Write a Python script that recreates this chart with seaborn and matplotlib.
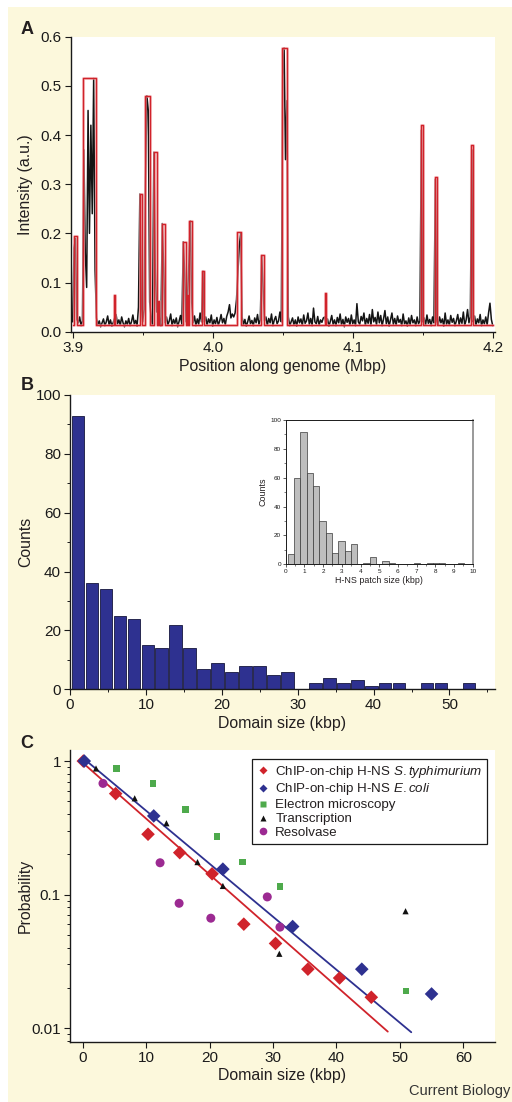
import numpy as np
import pandas as pd
import matplotlib
matplotlib.use("Agg")
import matplotlib.pyplot as plt
import seaborn as sns
from matplotlib.patches import Rectangle
from matplotlib.lines import Line2D
from matplotlib.ticker import MultipleLocator, FixedLocator, FixedFormatter, NullLocator

# ---------------- data ----------------
# Panel A: ChIP-on-chip intensity along the genome (1 kb steps from 3.900 Mbp)
trace_start = 3.900
trace_step = 0.001
trace_vals = [
    0.020, 0.170, 0.190, 0.025, 0.018, 0.030, 0.012, 0.022, 0.370, 0.160,
    0.090, 0.450, 0.200, 0.420, 0.240, 0.515, 0.125, 0.028, 0.015, 0.022,
    0.010, 0.018, 0.026, 0.012, 0.020, 0.032, 0.014, 0.024, 0.011, 0.019,
    0.028, 0.035, 0.016, 0.024, 0.013, 0.030, 0.018, 0.010, 0.022, 0.015,
    0.027, 0.012, 0.020, 0.034, 0.016, 0.023, 0.011, 0.050, 0.280, 0.060,
    0.020, 0.045, 0.300, 0.480, 0.450, 0.060, 0.030, 0.015, 0.365, 0.130,
    0.040, 0.060, 0.025, 0.012, 0.220, 0.130, 0.018, 0.030, 0.014, 0.022,
    0.036, 0.012, 0.025, 0.017, 0.028, 0.010, 0.021, 0.033, 0.015, 0.183,
    0.120, 0.020, 0.070, 0.140, 0.225, 0.060, 0.018, 0.032, 0.012, 0.026,
    0.015, 0.038, 0.020, 0.123, 0.020, 0.030, 0.013, 0.026, 0.018, 0.034,
    0.011, 0.024, 0.016, 0.029, 0.013, 0.022, 0.035, 0.018, 0.027, 0.014,
    0.031, 0.040, 0.055, 0.028, 0.036, 0.030, 0.038, 0.065, 0.120, 0.175,
    0.200, 0.030, 0.014, 0.025, 0.011, 0.020, 0.032, 0.016, 0.023, 0.012,
    0.028, 0.018, 0.035, 0.015, 0.024, 0.155, 0.090, 0.022, 0.030, 0.013,
    0.027, 0.018, 0.036, 0.012, 0.024, 0.031, 0.016, 0.022, 0.040, 0.020,
    0.520, 0.577, 0.350, 0.470, 0.030, 0.012, 0.020, 0.028, 0.014, 0.024,
    0.011, 0.030, 0.018, 0.026, 0.013, 0.034, 0.017, 0.022, 0.038, 0.015,
    0.027, 0.012, 0.048, 0.020, 0.016, 0.031, 0.013, 0.024, 0.019, 0.028,
    0.030, 0.014, 0.026, 0.011, 0.021, 0.033, 0.015, 0.024, 0.012, 0.029,
    0.018, 0.036, 0.014, 0.025, 0.010, 0.030, 0.019, 0.027, 0.013, 0.034,
    0.016, 0.024, 0.012, 0.057, 0.020, 0.015, 0.031, 0.022, 0.038, 0.013,
    0.027, 0.017, 0.035, 0.012, 0.045, 0.020, 0.029, 0.014, 0.040, 0.018,
    0.033, 0.012, 0.026, 0.043, 0.016, 0.030, 0.011, 0.024, 0.038, 0.015,
    0.027, 0.013, 0.032, 0.019, 0.025, 0.012, 0.036, 0.016, 0.022, 0.011,
    0.028, 0.014, 0.033, 0.018, 0.024, 0.012, 0.030, 0.016, 0.022, 0.410,
    0.020, 0.028, 0.013, 0.034, 0.017, 0.025, 0.012, 0.030, 0.018, 0.310,
    0.022, 0.014, 0.030, 0.018, 0.026, 0.011, 0.038, 0.015, 0.024, 0.013,
    0.033, 0.019, 0.027, 0.012, 0.022, 0.035, 0.014, 0.028, 0.017, 0.040,
    0.013, 0.024, 0.045, 0.018, 0.030, 0.370, 0.020, 0.032, 0.013, 0.026,
    0.018, 0.035, 0.012, 0.024, 0.016, 0.030, 0.014, 0.038, 0.058, 0.025,
    0.012,
]

# H-NS domains called from the trace (red boxes)
box_start = [3.9008, 3.9076, 3.9298, 3.9478, 3.9518, 3.9578, 3.9608, 3.9638, 3.9788, 3.9818,
             3.9828, 3.9926, 4.0177, 4.0345, 4.0498, 4.0802, 4.1486, 4.1586, 4.1848]
box_end = [3.9029, 3.9167, 3.9302, 3.9498, 3.9555, 3.9602, 3.9618, 3.9657, 3.9807, 3.9822,
           3.9850, 3.9940, 4.0205, 4.0369, 4.0533, 4.0808, 4.1500, 4.1600, 4.1862]
box_height = [0.195, 0.515, 0.075, 0.280, 0.480, 0.365, 0.062, 0.220, 0.183, 0.075,
              0.225, 0.123, 0.202, 0.155, 0.577, 0.078, 0.420, 0.315, 0.380]
box_base = 0.013

# Panel B: domain size histogram
dom_bin_start = 0.13
dom_bin_width = 1.84
dom_counts = [93, 36, 34, 25, 24, 15, 14, 22, 14, 7, 9, 6, 8, 8, 5, 6, 0,
              2, 4, 2, 3, 1, 2, 2, 0, 2, 2, 0, 2]

# inset: H-NS patch size histogram
patch_bin_start = 0.107
patch_bin_width = 0.3375
patch_counts = [7, 60, 92, 63, 54, 30, 22, 8, 16, 9, 14, 0, 1, 5, 0, 2, 1,
                0, 0, 0, 1, 0, 1, 1, 1, 0, 0, 1]

# Panel C: probability vs domain size
styph_x = [0.1, 5.2, 10.3, 15.3, 20.4, 25.4, 30.4, 35.5, 40.5, 45.5]
styph_y = [1.0, 0.57, 0.283, 0.206, 0.143, 0.060, 0.043, 0.0276, 0.0237, 0.0170]
ecoli_x = [0.25, 11.2, 22.1, 33.1, 44.0, 55.0]
ecoli_y = [1.0, 0.388, 0.155, 0.0576, 0.0276, 0.0180]
em_x = [5.3, 11.1, 16.2, 21.2, 25.2, 31.1, 51.0]
em_y = [0.88, 0.68, 0.435, 0.273, 0.175, 0.115, 0.0189]
tr_x = [2.1, 8.2, 13.2, 18.1, 22.1, 31.0, 50.9]
tr_y = [0.88, 0.526, 0.342, 0.175, 0.116, 0.036, 0.075]
res_x = [3.2, 12.2, 15.2, 20.2, 29.1, 31.1]
res_y = [0.68, 0.173, 0.086, 0.0665, 0.096, 0.057]
styph_fit_x = [0.3, 48.1]
styph_fit_y = [0.944, 0.0094]
ecoli_fit_x = [0.3, 51.8]
ecoli_fit_y = [1.03, 0.0093]

legend_labels = ["ChIP-on-chip H-NS $\\mathit{S{.}typhimurium}$",
                 "ChIP-on-chip H-NS $\\mathit{E{.}coli}$",
                 "Electron microscopy", "Transcription", "Resolvase"]

# ---------------- style ----------------
sns.set_style("ticks")
plt.rcParams['font.family'] = ['Liberation Sans', 'DejaVu Sans']
plt.rcParams['mathtext.fontset'] = 'custom'
plt.rcParams['mathtext.it'] = 'Liberation Sans:italic'
plt.rcParams['mathtext.rm'] = 'Liberation Sans'
plt.rcParams.update({
    'xtick.direction': 'out', 'ytick.direction': 'out',
    'xtick.major.size': 4, 'ytick.major.size': 4,
    'xtick.minor.size': 2.5, 'ytick.minor.size': 2.5,
    'xtick.major.width': 0.8, 'ytick.major.width': 0.8,
    'xtick.minor.width': 0.7, 'ytick.minor.width': 0.7,
    'xtick.major.pad': 2.5, 'ytick.major.pad': 2.5,
    'axes.linewidth': 1.0, 'axes.edgecolor': '#1a1a1a',
    'xtick.color': '#1a1a1a', 'ytick.color': '#1a1a1a',
    'text.color': '#231f20', 'axes.labelcolor': '#231f20',
})

cream = '#FCF8DC'
red = '#D0232B'
navy = '#2E3190'
tick_fs = 11
lab_fs = 11.4

fig = plt.figure(figsize=(5.12, 11.02), dpi=100, facecolor='white')
fig.patches.append(Rectangle((8 / 512, 0), 1, (1102 - 7) / 1102, transform=fig.transFigure,
                             facecolor=cream, edgecolor='none', zorder=-10))


def style_axes(ax):
    ax.set_facecolor('white')
    for s in ['top', 'right']:
        ax.spines[s].set_visible(False)
    ax.tick_params(labelsize=tick_fs)


# ---------------- panel A ----------------
axA = fig.add_axes([70.7 / 512, 1 - 331.7 / 1102, 424.3 / 512, 295 / 1102])
style_axes(axA)
trace_x = trace_start + trace_step * np.arange(len(trace_vals))
sns.lineplot(x=trace_x, y=trace_vals, estimator=None, sort=False, color='#141414',
             lw=1.1, ax=axA)
step_x = [trace_start]
step_y = [box_base]
for s, e, h in zip(box_start, box_end, box_height):
    step_x += [s, s, e, e]
    step_y += [box_base, h, h, box_base]
step_x.append(4.2)
step_y.append(box_base)
axA.plot(step_x, step_y, color='#F2A0A4', lw=2.2, zorder=3, alpha=0.6)
axA.plot(step_x, step_y, color=red, lw=1.0, zorder=4)
axA.set_xlim(3.8986, 4.2016)
axA.set_ylim(0, 0.6)
axA.set_xticks([3.9, 4.0, 4.1, 4.2])
axA.set_xticklabels(['3.9', '4.0', '4.1', '4.2'])
axA.xaxis.set_minor_locator(FixedLocator([3.95, 4.05, 4.15]))
axA.set_yticks([0, 0.1, 0.2, 0.3, 0.4, 0.5, 0.6])
axA.set_yticklabels(['0.0', '0.1', '0.2', '0.3', '0.4', '0.5', '0.6'])
axA.set_xlabel('Position along genome (Mbp)', fontsize=lab_fs, labelpad=3)
axA.set_ylabel('Intensity (a.u.)', fontsize=lab_fs)
axA.yaxis.set_label_coords(-0.089, 0.5)

# ---------------- panel B ----------------
axB = fig.add_axes([70 / 512, 1 - 689.3 / 1102, 425 / 512, 294.3 / 1102])
style_axes(axB)
dom_edges = [dom_bin_start + dom_bin_width * k for k in range(len(dom_counts) + 1)]
dom_df = pd.DataFrame({'size': [dom_edges[k] + dom_bin_width / 2 for k in range(len(dom_counts))],
                       'count': dom_counts})
dom_df = dom_df[dom_df['count'] > 0]
sns.histplot(data=dom_df, x='size', weights='count', bins=dom_edges,
             shrink=0.9, color=navy, edgecolor='#15163d', linewidth=0.6, alpha=1, ax=axB)
axB.set_xlim(0, 56)
axB.set_ylim(0, 100)
axB.set_xticks([0, 10, 20, 30, 40, 50])
axB.xaxis.set_minor_locator(MultipleLocator(5))
axB.set_yticks([0, 20, 40, 60, 80, 100])
axB.yaxis.set_minor_locator(MultipleLocator(10))
axB.set_xlabel('Domain size (kbp)', fontsize=lab_fs, labelpad=3)
axB.set_ylabel('Counts', fontsize=lab_fs)
axB.yaxis.set_label_coords(-0.087, 0.5)

# inset
axI = fig.add_axes([285.7 / 512, 1 - 564.3 / 1102, 187 / 512, 144.3 / 1102])
axI.set_facecolor('white')
patch_edges = [patch_bin_start + patch_bin_width * k for k in range(len(patch_counts) + 1)]
patch_df = pd.DataFrame({'size': [patch_edges[k] + patch_bin_width / 2 for k in range(len(patch_counts))],
                         'count': patch_counts})
patch_df = patch_df[patch_df['count'] > 0]
sns.histplot(data=patch_df, x='size', weights='count', bins=patch_edges,
             shrink=1, color='#BEBEBE', edgecolor='#3a3a3a', linewidth=0.5, alpha=1, ax=axI)
axI.set_xlim(0, 10)
axI.set_ylim(0, 100)
axI.set_xticks(range(11))
axI.xaxis.set_minor_locator(MultipleLocator(0.5))
axI.set_yticks([0, 20, 40, 60, 80, 100])
axI.yaxis.set_minor_locator(MultipleLocator(10))
for s in axI.spines.values():
    s.set_linewidth(0.7)
axI.spines['right'].set_color('#888888')
axI.spines['right'].set_linewidth(1.2)
axI.tick_params(which='major', length=2, width=0.5, pad=1.2, labelsize=4.6)
axI.tick_params(which='minor', length=1.2, width=0.4)
axI.set_xlabel('H-NS patch size (kbp)', fontsize=6.4, labelpad=1.5)
axI.set_ylabel('Counts', fontsize=6.4, labelpad=2)

# ---------------- panel C ----------------
axC = fig.add_axes([70 / 512, 1 - 1041.7 / 1102, 425 / 512, 291.7 / 1102])
style_axes(axC)
axC.set_yscale('log')
axC.plot(styph_fit_x, styph_fit_y, color=red, lw=1.3, zorder=2)
axC.plot(ecoli_fit_x, ecoli_fit_y, color=navy, lw=1.3, zorder=2)
sns.scatterplot(x=styph_x, y=styph_y, marker='D', s=48, color=red, edgecolor='none', ax=axC, zorder=3)
sns.scatterplot(x=ecoli_x, y=ecoli_y, marker='D', s=48, color=navy, edgecolor='none', ax=axC, zorder=3)
sns.scatterplot(x=em_x, y=em_y, marker='s', s=22, color='#4EAA4C', edgecolor='none', ax=axC, zorder=3)
sns.scatterplot(x=tr_x, y=tr_y, marker='^', s=20, color='#111111', edgecolor='none', ax=axC, zorder=3)
sns.scatterplot(x=res_x, y=res_y, marker='o', s=42, color='#9C2A92', edgecolor='none', ax=axC, zorder=3)
axC.set_xlim(-2, 65)
axC.set_ylim(0.0079, 1.21)
axC.set_xticks([0, 10, 20, 30, 40, 50, 60])
axC.xaxis.set_minor_locator(NullLocator())
axC.yaxis.set_major_locator(FixedLocator([0.01, 0.1, 1]))
axC.yaxis.set_major_formatter(FixedFormatter(['0.01', '0.1', '1']))
axC.tick_params(axis='y', which='minor', labelleft=False)
axC.set_xlabel('Domain size (kbp)', fontsize=lab_fs, labelpad=2)
axC.set_ylabel('Probability', fontsize=lab_fs)
axC.yaxis.set_label_coords(-0.087, 0.5)

handles = [
    Line2D([], [], ls='', marker='D', ms=4, color=red, mec='none'),
    Line2D([], [], ls='', marker='D', ms=4, color=navy, mec='none'),
    Line2D([], [], ls='', marker='s', ms=5, color='#4EAA4C', mec='none'),
    Line2D([], [], ls='', marker='^', ms=4.5, color='#111111', mec='none'),
    Line2D([], [], ls='', marker='o', ms=5.5, color='#9C2A92', mec='none'),
]
leg = axC.legend(handles, legend_labels, loc='upper left', bbox_to_anchor=(0.428, 0.969),
                 fontsize=9.6, frameon=True, fancybox=False, edgecolor='#1a1a1a', framealpha=1,
                 borderpad=0.35, handlelength=0.9, handletextpad=0.5, labelspacing=0.12,
                 borderaxespad=0)
leg.get_frame().set_linewidth(0.9)

# panel letters and journal tag
for letter, ypx in [('A', 29), ('B', 386), ('C', 744)]:
    fig.text(27 / 512, 1 - ypx / 1102, letter, fontsize=13, fontweight='bold',
             ha='center', va='center', color='#231f20')
fig.text(510 / 512, 1 - 1091 / 1102, 'Current Biology', fontsize=10.5,
         ha='right', va='center', color='#333333')

fig.savefig('out.png', dpi=100, facecolor=fig.get_facecolor())
